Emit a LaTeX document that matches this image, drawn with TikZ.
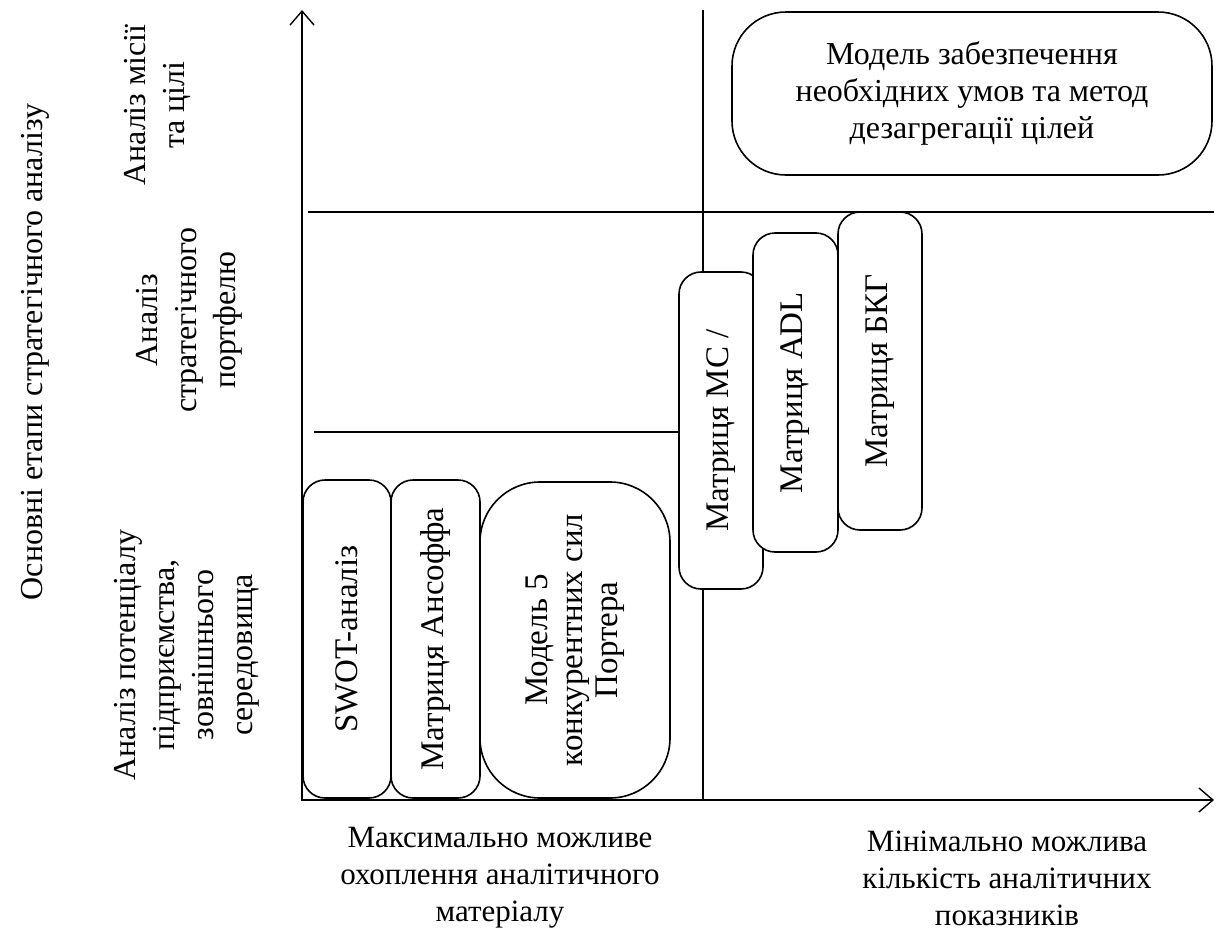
\documentclass[tikz,border=0pt]{standalone}
\usepackage{fontspec}
\setmainfont{Liberation Serif}
\usepackage{tikz}
\usetikzlibrary{arrows.meta, positioning}
\tikzstyle{every node}=[font=\fontsize{15.5}{18.5}\selectfont]
\tikzstyle{tool}=[draw,fill=white,rectangle,rounded corners=11pt,rotate=90,align=center,inner sep=0pt,line width=0.8pt,font=\fontsize{16.5}{17.5}\selectfont]
\tikzstyle{stage}=[rotate=90,align=center,font=\fontsize{16}{19.5}\selectfont]
\tikzstyle{axis}=[line width=0.7pt]

\begin{document}
\begin{tikzpicture}[x=0.5pt,y=-0.5pt,>={Straight Barb[length=7pt,width=12pt]}]
    \useasboundingbox (0,0) rectangle (1217,932);
    \coordinate (o) at (302,800);
    \coordinate (ytop) at (302,10);
    \coordinate (xend) at (1214,800);
    \coordinate (vtop) at (703,10);
    \coordinate (vbot) at (703,800);
    \coordinate (h1l) at (308,212);
    \coordinate (h1r) at (1214,212);
    \coordinate (h2l) at (314,432);
    \coordinate (h2r) at (703,432);
    \draw[axis,<->] (ytop) -- (o) -- (xend);
    \draw[axis] (vtop) -- (vbot);
    \draw[axis] (h1l) -- (h1r);
    \draw[axis] (h2l) -- (h2r);
    % stages
    \node[stage] (title) at (35,352) {Основні етапи стратегічного аналізу};
    \node[stage] (st3) at (157,105) {Аналіз місії\\та цілі};
    \node[stage] (st2) at (189,320) {Аналіз\\стратегічного\\портфелю};
    \node[stage] (st1) at (187,655) {Аналіз потенціалу\\підприємства,\\зовнішнього\\середовища};
    % tools
    \node[tool, minimum width=159pt, minimum height=44pt] (swot) at (347,639) {SWOT-аналіз};
    \node[tool, minimum width=159pt, minimum height=44.5pt] (ansoff) at (435.5,639) {Матриця Ансоффа};
    \node[tool, minimum width=158pt, minimum height=95pt, rounded corners=30pt] (porter) at (575,640) {Модель 5\\конкурентних сил\\Портера};
    \node[tool, minimum width=158.5pt, minimum height=42pt] (mc) at (721,430.5) {Матриця МС /};
    \node[tool, minimum width=159.5pt, minimum height=42.5pt] (adl) at (795.5,392.5) {Матриця ADL};
    \node[tool, minimum width=159pt, minimum height=42pt] (bkg) at (880,371) {Матриця БКГ};
    \node[draw, fill=white, rounded corners=27pt, line width=0.8pt, minimum width=240pt, minimum height=81.5pt, align=center, inner sep=0pt, font=\fontsize{16}{18.5}\selectfont] (goals) at (972,93.5) {Модель забезпечення\\необхідних умов та метод\\дезагрегації цілей};
    % x axis captions
    \node[align=center] (maxcov) at (500,878) {Максимально можливе\\охоплення аналітичного\\матеріалу};
    \node[align=center] (mincnt) at (1007,878) {Мінімально можлива\\кількість аналітичних\\показників};
\end{tikzpicture}
\end{document}
